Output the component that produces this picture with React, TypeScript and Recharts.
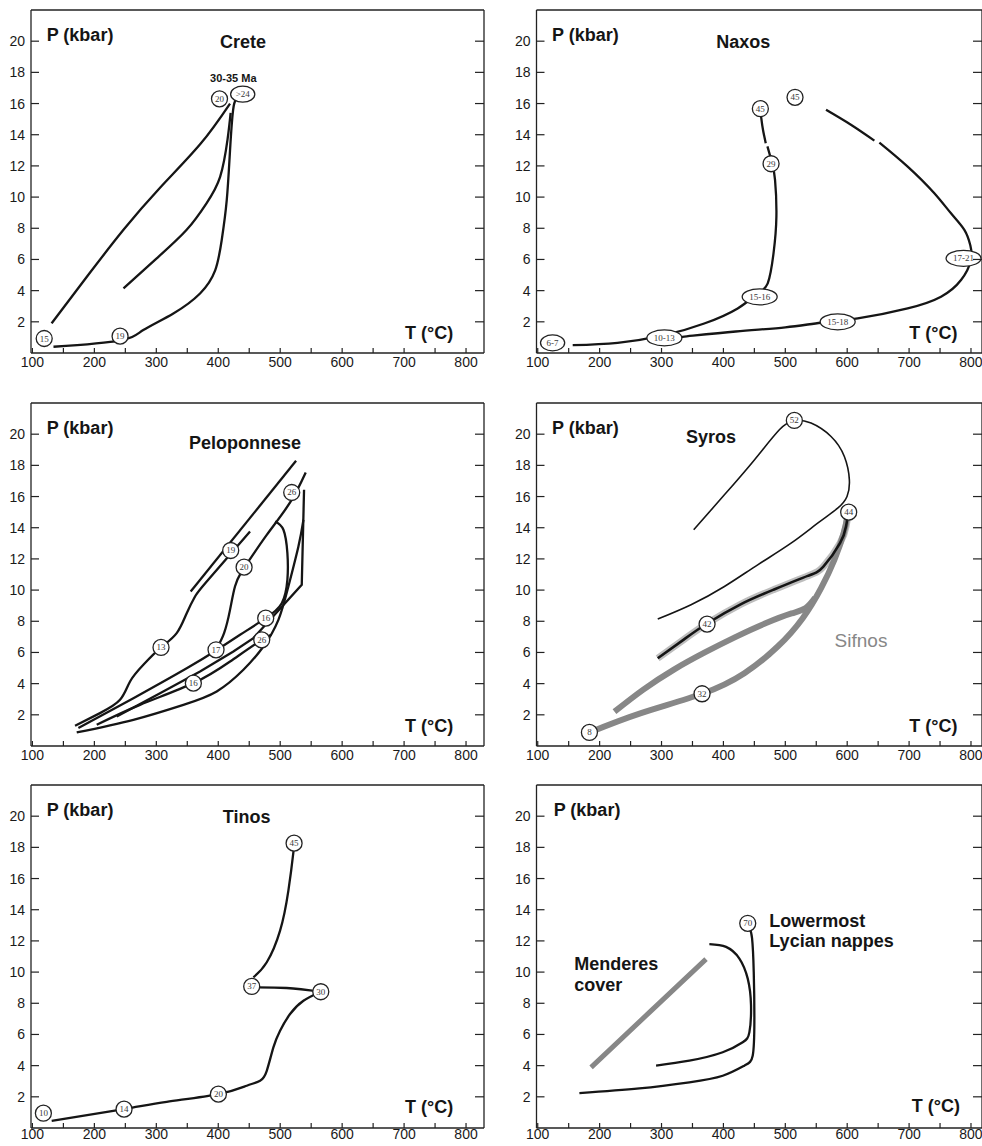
import type { CSSProperties, ReactNode } from "react"
import { ComposedChart, Line, Scatter, XAxis, YAxis } from "recharts"

type Pt = { t: number; p: number }
type Badge = { t: number; p: number; label: string }

const INK = "#151515"
const AXIS = "#222"
const GREY = "#878787"
const SANS = '"Liberation Sans", Arial, Helvetica, sans-serif'
const NARROW = '"Liberation Sans Narrow", "Liberation Sans", Arial, sans-serif'

const T_TICKS = [100, 150, 200, 250, 300, 350, 400, 450, 500, 550, 600, 650, 700, 750, 800]
const P_TICKS = [2, 4, 6, 8, 10, 12, 14, 16, 18, 20]
const P_DOMAIN: [number, number] = [0, 22]
const LEFT_DOMAIN: [number, number] = [97.7, 829]
const RIGHT_DOMAIN: [number, number] = [98, 817.8]

// Crete
const creteOuter: Pt[] = [
	{ t: 131, p: 1.9 }, { t: 190, p: 5.0 }, { t: 247, p: 7.9 },
	{ t: 306, p: 10.6 }, { t: 371, p: 13.4 }, { t: 419, p: 16.0 },
]
const creteMiddle: Pt[] = [
	{ t: 247, p: 4.14 }, { t: 300.6, p: 6.07 }, { t: 349, p: 7.9 }, { t: 381, p: 9.6 },
	{ t: 403, p: 11.3 }, { t: 415, p: 13.7 }, { t: 420, p: 15.4 },
]
const creteInner: Pt[] = [
	{ t: 134, p: 0.4 }, { t: 241, p: 0.8 }, { t: 279, p: 1.47 }, { t: 327.5, p: 2.54 },
	{ t: 370.6, p: 3.82 }, { t: 395, p: 5.3 }, { t: 405.6, p: 7.25 }, { t: 413.7, p: 9.8 },
	{ t: 419, p: 13.0 }, { t: 424, p: 15.6 }, { t: 428.7, p: 16.25 },
]
const creteBadges: Badge[] = [
	{ t: 119, p: 0.93, label: "15" }, { t: 241.5, p: 1.08, label: "19" },
	{ t: 402, p: 16.3, label: "20" }, { t: 439.5, p: 16.6, label: ">24" },
]

// Naxos
const naxosInnerLow: Pt[] = [
	{ t: 156.5, p: 0.5 }, { t: 229, p: 0.65 }, { t: 304.6, p: 1.14 }, { t: 369, p: 1.89 },
	{ t: 423, p: 2.86 }, { t: 455, p: 3.8 }, { t: 471.6, p: 4.47 }, { t: 481, p: 6.4 },
	{ t: 485.6, p: 8.75 }, { t: 483.4, p: 11.1 }, { t: 478.6, p: 12.2 }, { t: 471.1, p: 13.25 },
]
const naxosInnerHigh: Pt[] = [
	{ t: 468.4, p: 13.46 }, { t: 464, p: 14.3 }, { t: 461.4, p: 15.0 }, { t: 460, p: 15.5 },
]
const naxosOuterLow: Pt[] = [
	{ t: 300, p: 0.92 }, { t: 334, p: 1.04 }, { t: 420, p: 1.38 }, { t: 500, p: 1.65 },
	{ t: 557.7, p: 1.94 }, { t: 617, p: 2.22 }, { t: 697.7, p: 2.86 }, { t: 751.6, p: 3.61 },
	{ t: 783.9, p: 4.68 }, { t: 800, p: 5.97 }, { t: 799, p: 6.9 }, { t: 789.3, p: 7.9 },
	{ t: 767.7, p: 8.96 }, { t: 740.8, p: 10.25 }, { t: 697.7, p: 11.96 }, { t: 652, p: 13.5 },
]
const naxosOuterHigh: Pt[] = [
	{ t: 643.9, p: 13.62 }, { t: 606, p: 14.64 }, { t: 565.8, p: 15.6 },
]
const naxosBadges: Badge[] = [
	{ t: 124, p: 0.65, label: "6-7" }, { t: 304.6, p: 0.97, label: "10-13" },
	{ t: 458.6, p: 3.6, label: "15-16" }, { t: 477, p: 12.14, label: "29" },
	{ t: 459.7, p: 15.67, label: "45" }, { t: 515.7, p: 16.4, label: "45" },
	{ t: 788, p: 6.07, label: "17-21" }, { t: 584.6, p: 2.0, label: "15-18" },
]

// Peloponnese
const pelStraight: Pt[] = [{ t: 355.5, p: 9.91 }, { t: 525.6, p: 18.29 }]
const pelWest: Pt[] = [
	{ t: 168.8, p: 1.3 }, { t: 209.1, p: 2.11 }, { t: 241.4, p: 2.96 }, { t: 257.6, p: 4.14 },
	{ t: 279.1, p: 5.21 }, { t: 307.6, p: 6.32 }, { t: 332.9, p: 7.24 }, { t: 349.1, p: 8.52 },
	{ t: 362.5, p: 9.59 }, { t: 381.4, p: 10.55 }, { t: 451.3, p: 13.76 },
]
const pelCentral: Pt[] = [
	{ t: 396.4, p: 6.17 }, { t: 409.4, p: 7.24 }, { t: 419, p: 8.73 }, { t: 427, p: 10.23 },
	{ t: 436.3, p: 11.09 }, { t: 448.7, p: 11.83 }, { t: 478.3, p: 13.54 }, { t: 516, p: 15.62 },
	{ t: 541.2, p: 17.54 },
]
const pelLoop: Pt[] = [
	{ t: 491.7, p: 14.4 }, { t: 505.2, p: 13.87 }, { t: 511.6, p: 12.37 }, { t: 511.6, p: 10.66 },
	{ t: 502.5, p: 9.16 }, { t: 476.6, p: 8.2 }, { t: 435.2, p: 7.13 }, { t: 396.4, p: 6.13 },
	{ t: 349.1, p: 4.99 }, { t: 263, p: 3.07 }, { t: 174.2, p: 1.15 },
]
const pelShort: Pt[] = [
	{ t: 203.8, p: 1.36 }, { t: 273.7, p: 2.64 }, { t: 359.8, p: 4.03 },
	{ t: 419.1, p: 5.42 }, { t: 470.2, p: 6.81 }, { t: 486.3, p: 7.13 },
]
const pelHinge: Pt[] = [
	{ t: 236.1, p: 1.89 }, { t: 306, p: 3.39 }, { t: 370.6, p: 4.78 }, { t: 424.4, p: 6.06 },
	{ t: 456.7, p: 6.92 }, { t: 534.8, p: 10.34 }, { t: 538.5, p: 16.43 },
]
const pelLower: Pt[] = [
	{ t: 171.5, p: 0.87 }, { t: 263, p: 1.68 }, { t: 343.7, p: 2.64 }, { t: 397.5, p: 3.5 },
	{ t: 440.6, p: 4.89 }, { t: 472.9, p: 6.38 }, { t: 497.1, p: 8.09 }, { t: 513.2, p: 10.23 },
	{ t: 529.4, p: 12.8 }, { t: 537.5, p: 14.51 },
]
const pelBadges: Badge[] = [
	{ t: 307.6, p: 6.32, label: "13" }, { t: 420.1, p: 12.54, label: "19" },
	{ t: 441.7, p: 11.47, label: "20" }, { t: 518.6, p: 16.26, label: "26" },
	{ t: 476.6, p: 8.2, label: "16" }, { t: 470.2, p: 6.81, label: "26" },
	{ t: 396.4, p: 6.17, label: "17" }, { t: 359.8, p: 4.03, label: "16" },
]

// Syros / Sifnos
const syrosThin: Pt[] = [
	{ t: 352, p: 13.87 }, { t: 401.6, p: 16.11 }, { t: 450, p: 18.35 }, { t: 490.4, p: 20.28 },
	{ t: 514.6, p: 20.88 }, { t: 541.6, p: 20.71 }, { t: 573.9, p: 19.85 }, { t: 595.4, p: 18.57 },
	{ t: 603.5, p: 17.07 }, { t: 599.7, p: 16.0 }, { t: 584.6, p: 15.25 }, { t: 552.3, p: 14.29 },
	{ t: 509.3, p: 13.01 }, { t: 455.4, p: 11.62 }, { t: 401.6, p: 10.23 }, { t: 347.7, p: 9.06 },
	{ t: 293.9, p: 8.14 },
]
const syrosThick: Pt[] = [
	{ t: 293.9, p: 5.63 }, { t: 335.3, p: 6.81 }, { t: 373, p: 7.84 }, { t: 428.5, p: 9.1 },
	{ t: 480.7, p: 10.02 }, { t: 536.2, p: 10.91 }, { t: 561.5, p: 11.51 }, { t: 588.4, p: 13.01 },
	{ t: 598.1, p: 14.08 }, { t: 601.9, p: 14.93 },
]
const sifnosUpper: Pt[] = [
	{ t: 224, p: 2.2 }, { t: 270, p: 3.6 }, { t: 320, p: 4.9 }, { t: 370, p: 6.0 },
	{ t: 420, p: 7.0 }, { t: 470, p: 7.9 }, { t: 510, p: 8.5 }, { t: 533, p: 8.85 },
	{ t: 548, p: 9.5 },
]
const sifnosLower: Pt[] = [
	{ t: 183.5, p: 0.87 }, { t: 266.9, p: 2.11 }, { t: 365.5, p: 3.35 }, { t: 433.9, p: 4.67 },
	{ t: 487.7, p: 6.38 }, { t: 528.1, p: 8.2 }, { t: 557.7, p: 10.12 }, { t: 579.3, p: 11.94 },
	{ t: 594.3, p: 13.65 }, { t: 600.8, p: 14.83 },
]
const syrosBadges: Badge[] = [
	{ t: 514.6, p: 20.88, label: "52" }, { t: 602.4, p: 15.0, label: "44" },
	{ t: 373.6, p: 7.82, label: "42" }, { t: 365.5, p: 3.35, label: "32" },
	{ t: 183.5, p: 0.87, label: "8" },
]

// Tinos
const tinosLow: Pt[] = [
	{ t: 131.1, p: 0.46 }, { t: 247.9, p: 1.21 }, { t: 316.8, p: 1.68 }, { t: 400.2, p: 2.17 },
	{ t: 446, p: 2.71 }, { t: 467.5, p: 3.03 }, { t: 478.3, p: 3.67 }, { t: 489, p: 5.17 },
	{ t: 499.8, p: 6.24 }, { t: 515.9, p: 7.31 }, { t: 537.5, p: 8.16 }, { t: 565.5, p: 8.74 },
]
const tinosMid: Pt[] = [{ t: 454, p: 9.02 }, { t: 510.5, p: 8.98 }, { t: 565.5, p: 8.74 }]
const tinosHigh: Pt[] = [
	{ t: 456.7, p: 9.66 }, { t: 478.3, p: 10.63 }, { t: 499.8, p: 12.66 },
	{ t: 513.2, p: 15.23 }, { t: 521.3, p: 17.69 }, { t: 522.4, p: 18.27 },
]
const tinosBadges: Badge[] = [
	{ t: 117.7, p: 0.95, label: "10" }, { t: 247.9, p: 1.21, label: "14" },
	{ t: 400.2, p: 2.17, label: "20" }, { t: 454, p: 9.08, label: "37" },
	{ t: 565.5, p: 8.74, label: "30" }, { t: 522.4, p: 18.27, label: "45" },
]

// Menderes / Lycian nappes
const menderes: Pt[] = [{ t: 186.2, p: 3.89 }, { t: 280, p: 7.4 }, { t: 371.9, p: 10.83 }]
const lycianInner: Pt[] = [
	{ t: 291.2, p: 4.0 }, { t: 345, p: 4.32 }, { t: 398.9, p: 4.86 }, { t: 431.2, p: 5.5 },
	{ t: 442, p: 6.15 }, { t: 444.6, p: 7.87 }, { t: 439.3, p: 9.58 }, { t: 425.8, p: 10.87 },
	{ t: 404.3, p: 11.62 }, { t: 377.3, p: 11.8 },
]
const lycianOuter: Pt[] = [
	{ t: 167.3, p: 2.24 }, { t: 264.2, p: 2.54 }, { t: 345, p: 2.93 }, { t: 398.9, p: 3.35 },
	{ t: 433.9, p: 4.0 }, { t: 447.3, p: 4.64 }, { t: 450, p: 6.79 }, { t: 449, p: 10.01 },
	{ t: 446.3, p: 12.16 }, { t: 442.5, p: 12.8 },
]
const lycianBadges: Badge[] = [{ t: 439.3, p: 13.13, label: "70" }]

interface Curve {
	data: Pt[]
	color?: string
	width?: number
	kind?: "natural" | "linear"
	opacity?: number
}

interface TickProps {
	x?: number
	y?: number
	payload?: { value: number }
}

const LEFT_GAP = 6
const TICK_FONT = { fontSize: 14, fontFamily: NARROW, fill: "#1a1a1a" }

// ticks point into the plot, so each tick draws its own short line
function LeftTick({ x = 0, y = 0, payload }: TickProps) {
	const edge = x + LEFT_GAP
	return (
		<g>
			<line x1={edge} x2={edge + 8} y1={y} y2={y} stroke={AXIS} strokeWidth={1.2} />
			<text x={x} y={y + 5} textAnchor="end" {...TICK_FONT}>{payload?.value}</text>
		</g>
	)
}

function bottomTick(gap: number) {
	return function BottomTick({ x = 0, y = 0, payload }: TickProps) {
		const v = payload?.value ?? 0
		const edge = y - gap
		return (
			<g>
				<line x1={x} x2={x} y1={edge} y2={edge - 5} stroke={AXIS} strokeWidth={1.2} />
				{v % 100 === 0 && (
					<text x={x} y={y + 5} textAnchor="middle" {...TICK_FONT}>{v}</text>
				)}
			</g>
		)
	}
}

function TopTick({ x = 0, y = 0 }: TickProps) {
	return <line x1={x} x2={x} y1={y} y2={y + 5} stroke={AXIS} strokeWidth={1.2} />
}

function RightTick({ x = 0, y = 0 }: TickProps) {
	return <line x1={x} x2={x - 9} y1={y} y2={y} stroke={AXIS} strokeWidth={1.2} />
}

function BadgeShape(props: { cx?: number; cy?: number; payload?: Badge }) {
	const { cx = 0, cy = 0, payload } = props
	const label = payload?.label ?? ""
	const rx = label.length <= 2 ? 8 : 4 + label.length * 2.7
	return (
		<g>
			<ellipse cx={cx} cy={cy} rx={rx} ry={8} fill="#fff" stroke="#222" strokeWidth={1.3} />
			<text
				x={cx}
				y={cy + 3}
				textAnchor="middle"
				fontSize={9}
				fontFamily='"Liberation Serif", serif'
				fill="#3a3a3a"
			>
				{label}
			</text>
		</g>
	)
}

const noteBase: CSSProperties = {
	position: "absolute",
	fontFamily: SANS,
	fontWeight: 700,
	fontSize: 18,
	color: INK,
	lineHeight: 1,
	whiteSpace: "nowrap",
}

function Note({ x, y, center, style, children }: { x: number; y: number; center?: boolean; style?: CSSProperties; children: ReactNode }) {
	return (
		<div style={{ ...noteBase, left: x, top: y, transform: center ? "translate(-50%, -50%)" : "translateY(-50%)", ...style }}>
			{children}
		</div>
	)
}

const TICK_LABEL_GAP = 8.5
const LOW_ROW_GAP = 5.5

function Panel({
	x, y, right, gap = TICK_LABEL_GAP, curves, badges, children,
}: { x: number; y: number; right: boolean; gap?: number; curves: Curve[]; badges: Badge[]; children?: ReactNode }) {
	const domain = right ? RIGHT_DOMAIN : LEFT_DOMAIN
	const BottomTick = bottomTick(gap)
	return (
		<div style={{ position: "absolute", left: x, top: y, width: 491, height: 383 }}>
			<ComposedChart
				width={491}
				height={383}
				margin={{ top: 10, right: right ? 0 : 7, bottom: 10, left: right ? 20.5 : 6 }}
			>
				<XAxis
					xAxisId="b"
					dataKey="t"
					type="number"
					domain={domain}
					ticks={T_TICKS}
					interval={0}
					tick={<BottomTick />}
					tickLine={false}
					tickSize={0}
					tickMargin={gap}
					height={20}
					stroke={AXIS}
					strokeWidth={1.3}
					allowDataOverflow
				/>
				<XAxis
					xAxisId="top"
					orientation="top"
					mirror
					type="number"
					domain={domain}
					ticks={T_TICKS}
					interval={0}
					tick={<TopTick />}
					tickLine={false}
					tickSize={0}
					tickMargin={0}
					height={1}
					stroke={AXIS}
					strokeWidth={1.3}
					allowDataOverflow
				/>
				<YAxis
					yAxisId="l"
					dataKey="p"
					type="number"
					domain={P_DOMAIN}
					ticks={P_TICKS}
					interval={0}
					tick={<LeftTick />}
					tickLine={false}
					tickSize={0}
					tickMargin={LEFT_GAP}
					width={25}
					stroke={AXIS}
					strokeWidth={1.3}
					allowDataOverflow
				/>
				<YAxis
					yAxisId="r"
					orientation="right"
					mirror
					type="number"
					domain={P_DOMAIN}
					ticks={P_TICKS}
					interval={0}
					tick={<RightTick />}
					tickLine={false}
					tickSize={0}
					tickMargin={0}
					width={1}
					stroke={AXIS}
					strokeWidth={1.3}
					allowDataOverflow
				/>
				{curves.map((c, i) => (
					<Line
						key={i}
						xAxisId="b"
						yAxisId="l"
						data={c.data}
						dataKey="p"
						type={c.kind ?? "natural"}
						stroke={c.color ?? INK}
						strokeWidth={c.width ?? 2.3}
						strokeOpacity={c.opacity ?? 1}
						dot={false}
						activeDot={false}
						isAnimationActive={false}
					/>
				))}
				<Scatter
					xAxisId="b"
					yAxisId="l"
					data={badges}
					dataKey="p"
					shape={BadgeShape}
					isAnimationActive={false}
				/>
			</ComposedChart>
			{children}
		</div>
	)
}

function PLabel({ x }: { x: number }) {
	return <Note x={x} y={34.5}>P (kbar)</Note>
}

function TLabel({ x, y = 333 }: { x: number; y?: number }) {
	return <Note x={x} y={y}>T (°C)</Note>
}

export default function App() {
	return (
		<div style={{ position: "absolute", left: 0, top: 0, width: 982, height: 1146, overflow: "hidden", background: "#fff" }}>
			<Panel
				x={0}
				y={0}
				right={false}
				curves={[{ data: creteOuter }, { data: creteMiddle }, { data: creteInner }]}
				badges={creteBadges}
			>
				<PLabel x={46.7} />
				<Note x={243} y={41.7} center>Crete</Note>
				<Note x={233.3} y={78.3} center style={{ fontSize: 11 }}>30-35 Ma</Note>
				<TLabel x={405} />
			</Panel>
			<Panel
				x={491}
				y={0}
				right
				curves={[
					{ data: naxosInnerLow },
					{ data: naxosInnerHigh },
					{ data: naxosOuterLow },
					{ data: naxosOuterHigh },
				]}
				badges={naxosBadges}
			>
				<PLabel x={61} />
				<Note x={252.3} y={42} center>Naxos</Note>
				<TLabel x={418.3} />
			</Panel>
			<Panel
				x={0}
				y={393}
				right={false}
				curves={[
					{ data: pelStraight, kind: "linear" },
					{ data: pelWest },
					{ data: pelCentral },
					{ data: pelLoop },
					{ data: pelShort },
					{ data: pelHinge, kind: "linear" },
					{ data: pelLower },
				]}
				badges={pelBadges}
			>
				<PLabel x={46.7} />
				<Note x={245} y={49.7} center>Peloponnese</Note>
				<TLabel x={405} />
			</Panel>
			<Panel
				x={491}
				y={393}
				right
				curves={[
					{ data: sifnosUpper, color: GREY, width: 6 },
					{ data: sifnosLower, color: GREY, width: 6 },
					{ data: syrosThick, color: GREY, width: 7, opacity: 0.55 },
					{ data: syrosThick, width: 2.6 },
					{ data: syrosThin, width: 1.6 },
				]}
				badges={syrosBadges}
			>
				<PLabel x={61} />
				<Note x={220} y={43.7} center>Syros</Note>
				<Note x={370} y={247} center style={{ fontWeight: 400, fontSize: 19, color: GREY }}>Sifnos</Note>
				<TLabel x={418.3} />
			</Panel>
			<Panel
				x={0}
				y={775}
				right={false}
				gap={LOW_ROW_GAP}
				curves={[{ data: tinosLow }, { data: tinosMid }, { data: tinosHigh }]}
				badges={tinosBadges}
			>
				<PLabel x={46.7} />
				<Note x={246.7} y={42.3} center>Tinos</Note>
				<TLabel x={405} y={332.3} />
			</Panel>
			<Panel
				x={491}
				y={775}
				right
				gap={LOW_ROW_GAP}
				curves={[
					{ data: menderes, color: GREY, width: 5, kind: "linear" },
					{ data: lycianInner },
					{ data: lycianOuter },
				]}
				badges={lycianBadges}
			>
				<PLabel x={62.7} />
				<Note x={278.3} y={145.7}>Lowermost</Note>
				<Note x={278.3} y={166}>Lycian nappes</Note>
				<Note x={83.3} y={189.3}>Menderes</Note>
				<Note x={83.3} y={210}>cover</Note>
				<TLabel x={420.7} y={331} />
			</Panel>
		</div>
	)
}
